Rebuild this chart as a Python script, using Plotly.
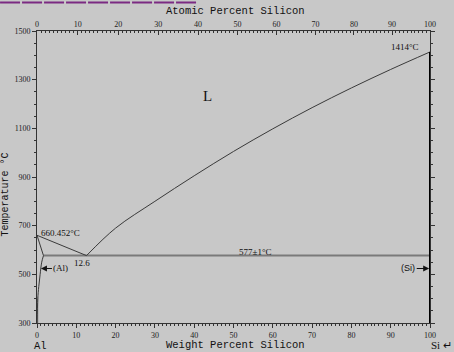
import plotly.graph_objects as go

# ---- data ----
liq_hypo_wt = [0, 12.6]
liq_hypo_T = [660.452, 577]
liq_hyper_wt = [12.6, 20, 30, 40, 50, 60, 70, 80, 90, 100]
liq_hyper_T = [577, 690, 800, 905, 1005, 1098, 1185, 1266, 1342, 1414]
solidus_wt = [0, 1.65]
solidus_T = [660.452, 577]
solvus_wt = [1.65, 1.2, 0.8, 0.45, 0.2, 0.05]
solvus_T = [577, 550, 500, 450, 400, 300]
eutectic_wt = [1.65, 100]
eutectic_T = [577, 577]
si_wt = [100, 100]
si_T = [300, 1414]
al_edge_wt = [0.1, 0.1]
al_edge_T = [300, 405]

x_ticks = [0, 10, 20, 30, 40, 50, 60, 70, 80, 90, 100]
y_ticks = [300, 500, 700, 900, 1100, 1300, 1500]
atomic_ticks = [0, 10, 20, 30, 40, 50, 60, 70, 80, 90, 100]
atomic_minor = list(range(0, 101))

M_SI, M_AL = 28.0855, 26.9815


def at_to_wt(a):
    return 100.0 * a * M_SI / (a * M_SI + (100 - a) * M_AL)


top_vals = [at_to_wt(a) for a in atomic_ticks]
top_minor = [at_to_wt(a) for a in atomic_minor]

BG = "#c8c8c8"
LINE = "#3a3a3a"
serif = "Liberation Serif"
mono = "Liberation Mono"

fig = go.Figure()


def add_line(x, y, color=LINE, width=1, shape="linear"):
    fig.add_trace(go.Scatter(x=x, y=y, mode="lines", line=dict(color=color, width=width, shape=shape),
                             hoverinfo="skip", showlegend=False))


add_line(al_edge_wt, al_edge_T, color="#9a9a9a", width=2)
add_line(eutectic_wt, eutectic_T, color="#7a7a7a", width=2)
add_line(liq_hypo_wt, liq_hypo_T)
add_line(liq_hyper_wt, liq_hyper_T, shape="spline")
add_line(solidus_wt, solidus_T)
add_line(solvus_wt, solvus_T, shape="spline")
add_line(si_wt, si_T, color="#000000", width=2)
# invisible trace to carry the top (atomic percent) axis
fig.add_trace(go.Scatter(x=[0, 100], y=[300, 300], xaxis="x2", mode="lines",
                         line=dict(width=0), hoverinfo="skip", showlegend=False))

tickfont = dict(family=serif, size=8, color="#222")

fig.update_layout(
    width=454, height=352,
    margin=dict(l=37, r=24, t=31, b=26),
    paper_bgcolor=BG, plot_bgcolor=BG,
    xaxis=dict(range=[0, 100], tickvals=x_ticks, ticktext=[str(v) for v in x_ticks],
               showline=True, linecolor="#333", linewidth=1, ticks="outside", ticklen=4,
               tickcolor="#333", tickfont=tickfont, showgrid=False, zeroline=False,
               minor=dict(dtick=1, ticklen=2, tickcolor="#333", ticks="outside")),
    xaxis2=dict(range=[0, 100], overlaying="x", side="top", anchor="y",
                tickvals=top_vals, ticktext=[str(v) for v in atomic_ticks],
                showline=True, linecolor="#333", linewidth=1, ticks="inside", ticklen=4,
                tickcolor="#333", tickfont=tickfont, showgrid=False, zeroline=False,
                minor=dict(tickvals=top_minor, ticklen=2, tickcolor="#333", ticks="inside")),
    yaxis=dict(range=[300, 1500], tickvals=y_ticks, ticktext=[str(v) for v in y_ticks],
               showline=True, linecolor="#333", linewidth=1, mirror="ticks", ticks="outside",
               ticklen=4, tickcolor="#333", tickfont=tickfont, showgrid=False, zeroline=False,
               minor=dict(dtick=50, ticklen=2, tickcolor="#333", ticks="outside")),
)

ann = []
ann.append(dict(x=43.5, y=1231, text="L", showarrow=False, font=dict(family=serif, size=15, color="#111")))
ann.append(dict(x=0.6, y=670, text="660.452°C", showarrow=False, xanchor="left",
                font=dict(family=serif, size=9, color="#111")))
ann.append(dict(x=11.4, y=548, text="12.6", showarrow=False, font=dict(family=serif, size=9, color="#111")))
ann.append(dict(x=55.5, y=593, text="577±1°C", showarrow=False, font=dict(family=serif, size=9, color="#111")))
ann.append(dict(x=93.6, y=1433, text="1414°C", showarrow=False, font=dict(family=serif, size=9, color="#111")))
ann.append(dict(x=1.0, y=524, text="(Al)", showarrow=True, ax=20, ay=0, arrowhead=2, arrowsize=1,
                arrowwidth=1.2, arrowcolor="#111", standoff=0, startstandoff=0,
                font=dict(family=serif, size=9, color="#111")))
ann.append(dict(x=99.8, y=524, text="(Si)", showarrow=True, ax=-21, ay=0, arrowhead=2, arrowsize=1,
                arrowwidth=1.2, arrowcolor="#111", standoff=0,
                font=dict(family="Liberation Sans", size=9, color="#111")))
ann.append(dict(x=0.505, y=-0.075, xref="paper", yref="paper", text="Weight Percent Silicon",
                showarrow=False, xanchor="center", yanchor="middle",
                font=dict(family=mono, size=10.5, color="#111")))
ann.append(dict(x=0.505, y=1.068, xref="paper", yref="paper", text="Atomic Percent Silicon",
                showarrow=False, xanchor="center", yanchor="middle",
                font=dict(family=mono, size=10.5, color="#111")))
ann.append(dict(x=0.008, y=-0.078, xref="paper", yref="paper", text="Al",
                showarrow=False, xanchor="center", yanchor="middle",
                font=dict(family=mono, size=10.5, color="#111")))
ann.append(dict(x=1.0305, y=-0.075, xref="paper", yref="paper", text="Si ↵",
                showarrow=False, xanchor="center", yanchor="middle",
                font=dict(family=serif, size=11, color="#111")))
ann.append(dict(x=-0.079, y=0.44, xref="paper", yref="paper", text="Temperature °C", textangle=-90,
                showarrow=False, xanchor="center", yanchor="middle",
                font=dict(family=mono, size=10, color="#111")))
fig.update_layout(annotations=ann)

fig.add_shape(type="line", xref="paper", yref="paper", x0=-0.094, x1=0.407, y0=1.098, y1=1.098,
              line=dict(color="#7b2a82", width=2, dash="20px,2px"))

fig.write_html("out.html")
